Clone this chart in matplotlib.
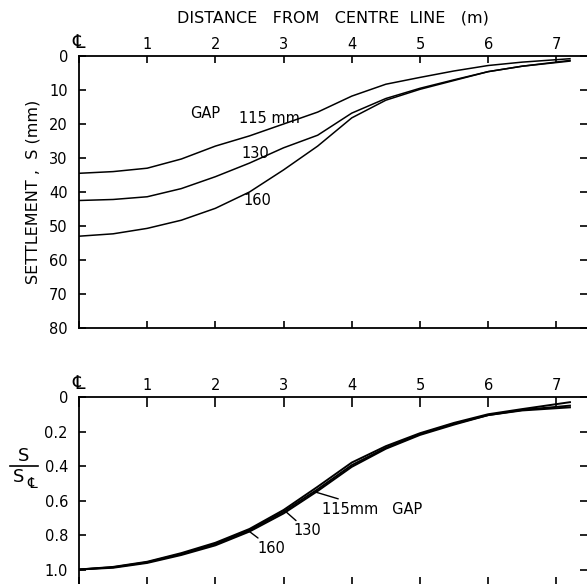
import numpy as np
import matplotlib
matplotlib.use("Agg")
import matplotlib.pyplot as plt

# distance from centre line (m)
dist = [0, 0.5, 1, 1.5, 2, 2.5, 3, 3.5, 4, 4.5, 5, 5.5, 6, 6.5, 7.2]

# settlement S (mm) for each gap
s_115 = [34.5, 34.0, 33.0, 30.3, 26.5, 23.5, 20.0, 16.5, 11.8, 8.3, 6.3, 4.4, 2.8, 1.8, 0.8]
s_130 = [42.5, 42.2, 41.4, 39.0, 35.5, 31.5, 27.0, 23.3, 16.8, 12.5, 9.5, 7.0, 4.6, 3.0, 1.3]
s_160 = [53.0, 52.3, 50.7, 48.3, 44.8, 40.0, 33.5, 26.5, 18.2, 13.0, 9.8, 7.2, 4.6, 3.0, 1.5]

# normalised settlement S / S_CL
n_115 = [1.0, 0.985, 0.955, 0.905, 0.845, 0.765, 0.655, 0.52, 0.38, 0.285, 0.21, 0.15, 0.10, 0.07, 0.03]
n_130 = [1.0, 0.987, 0.958, 0.91, 0.852, 0.772, 0.665, 0.535, 0.395, 0.295, 0.215, 0.155, 0.105, 0.075, 0.05]
n_160 = [1.0, 0.99, 0.962, 0.916, 0.86, 0.78, 0.675, 0.545, 0.405, 0.30, 0.22, 0.16, 0.105, 0.078, 0.06]

xticks = [0, 1, 2, 3, 4, 5, 6, 7]
xlabels = ["\u2104", "1", "2", "3", "4", "5", "6", "7"]

plt.rcParams['font.family'] = ['DejaVu Sans']
W, H = 587, 584
fig = plt.figure(figsize=(W/100, H/100), dpi=100)

def px(l, t, r, b):
    return [l/W, 1-b/H, (r-l)/W, (b-t)/H]

def style(ax):
    ax.set_xticks(xticks)
    ax.set_xticklabels(xlabels)
    ax.tick_params(axis='both', direction='in', length=5, width=1.2, labelsize=10.5,
                   top=True, bottom=True, left=True, right=True,
                   labeltop=True, labelbottom=False, labelleft=True, labelright=False)
    ax.tick_params(axis='x', pad=3)
    ax.tick_params(axis='y', pad=8)
    ax.spines['right'].set_visible(False)
    for s in ['left', 'top', 'bottom']:
        ax.spines[s].set_linewidth(1.3)
    # centre line symbol drawn a bit bigger
    ax.get_xticklabels()[0].set_fontsize(14)

# upper: settlement
ax1 = fig.add_axes(px(79, 56, 587, 328))
ax1.plot(dist, s_115, color='k', lw=1.1)
ax1.plot(dist, s_130, color='k', lw=1.1)
ax1.plot(dist, s_160, color='k', lw=1.1)
ax1.set_xlim(0, 7.45)
ax1.set_ylim(80, 0)
ax1.set_yticks(range(0, 81, 10))
style(ax1)
ax1.set_ylabel("SETTLEMENT ,  S (mm)", fontsize=11.5, labelpad=6)
ax1.set_title("DISTANCE   FROM   CENTRE  LINE   (m)", fontsize=11.5, pad=24)
ax1.text(1.85, 16.8, "GAP", fontsize=10.5, ha='center', va='center')
ax1.text(2.79, 18.5, "115 mm", fontsize=10.5, ha='center', va='center')
ax1.text(2.58, 28.6, "130", fontsize=10.5, ha='center', va='center')
ax1.text(2.62, 42.6, "160", fontsize=10.5, ha='center', va='center')

# lower: normalised
ax2 = fig.add_axes(px(79, 397, 587, 587))
ax2.plot(dist, n_115, color='k', lw=1.4)
ax2.plot(dist, n_130, color='k', lw=1.4)
ax2.plot(dist, n_160, color='k', lw=1.4)
ax2.set_xlim(0, 7.45)
ax2.set_ylim((587 - 397) / 172.5, 0)
ax2.set_yticks([0, 0.2, 0.4, 0.6, 0.8, 1.0])
ax2.set_yticklabels(["0", "0.2", "0.4", "0.6", "0.8", "1.0"])
style(ax2)
ax2.tick_params(axis='x', length=7)

# S / S_CL label drawn as a stacked fraction
fig.text(24/W, 1-456/H, "S", fontsize=13, ha='center', va='center')
fig.add_artist(plt.Line2D([10/W, 38/W], [1-466/H, 1-466/H], color='k', lw=1.2))
fig.text(19/W, 1-477/H, "S", fontsize=13, ha='center', va='center')
fig.text(32/W, 1-483/H, "\u2104", fontsize=11, ha='center', va='center')

line = dict(arrowstyle='-', color='k', lw=1, shrinkA=0, shrinkB=0)
ax2.annotate("115mm   GAP", xy=(3.46, 0.55), xytext=(3.57, 0.65), fontsize=10.5,
             ha='left', va='center', arrowprops=line)
ax2.annotate("130", xy=(3.02, 0.66), xytext=(3.15, 0.776), fontsize=10.5,
             ha='left', va='center', arrowprops=line)
ax2.annotate("160", xy=(2.5, 0.78), xytext=(2.62, 0.877), fontsize=10.5,
             ha='left', va='center', arrowprops=line)

fig.savefig("out.png", dpi=100)
